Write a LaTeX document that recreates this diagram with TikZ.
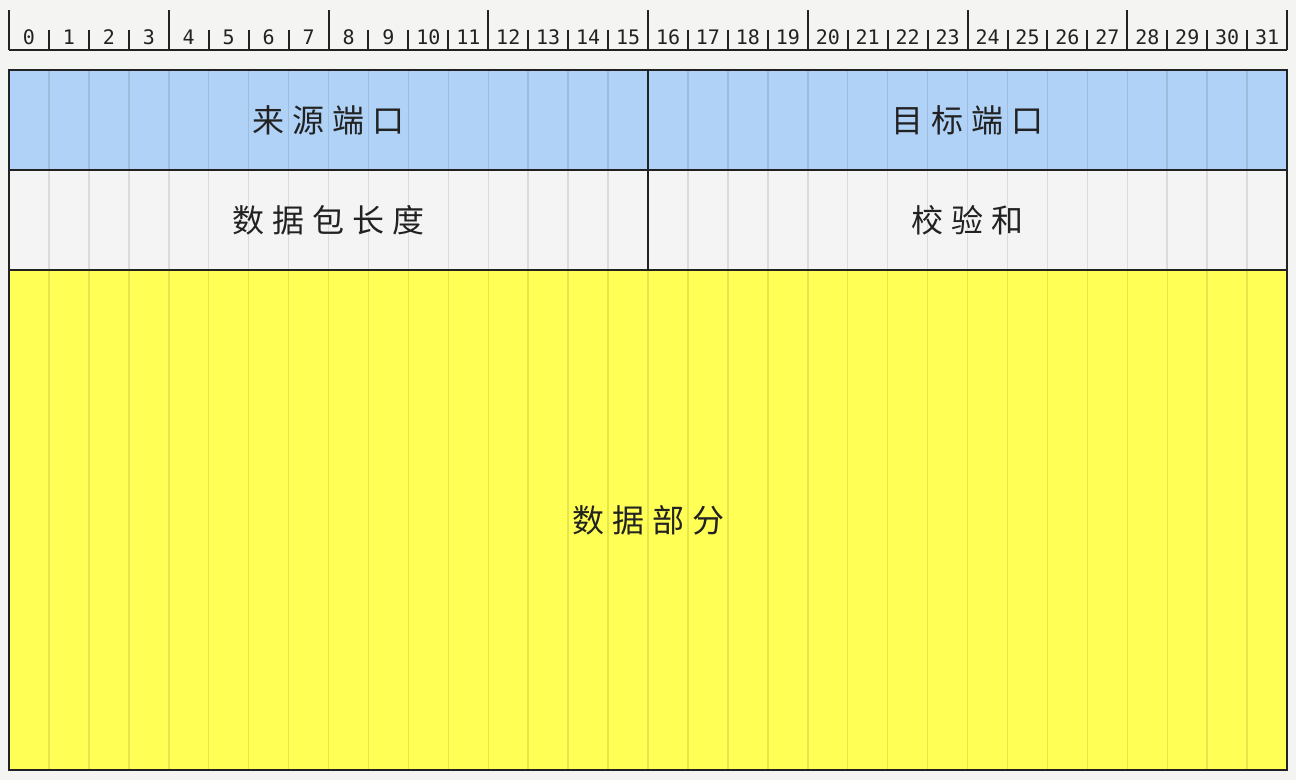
\documentclass[tikz,border=0pt]{standalone}
\usepackage{fontspec}
\setmonofont{DejaVu Sans Mono}
\newfontfamily\cjk[LetterSpace=25]{Noto Sans CJK SC}
\usetikzlibrary{positioning}
\definecolor{pagebg}{RGB}{244,244,242}
\definecolor{portblue}{RGB}{176,210,246}
\definecolor{rowgray}{RGB}{244,244,244}
\definecolor{datayellow}{RGB}{255,255,85}
\definecolor{inkgray}{RGB}{34,34,34}

\begin{document}
\begin{tikzpicture}[x=0.5pt, y=-0.5pt,
    field/.style={draw=inkgray, line width=1pt, inner sep=0pt, outer sep=0pt,
                  minimum width=319.5pt, minimum height=50pt, text=inkgray,
                  font=\cjk\fontsize{16}{18}\selectfont,
                  path picture={\foreach \i in {1,...,31}
                    \draw[black, opacity=0.1, line width=0.75pt]
                      ([xshift=\i*19.97pt]path picture bounding box.north west) --
                      ([xshift=\i*19.97pt]path picture bounding box.south west);}},
    bitno/.style={font=\ttfamily\fontsize{10}{12}\selectfont, text=inkgray, anchor=base, inner sep=0pt},
    ruler/.style={draw=inkgray, line width=1pt}]
  \useasboundingbox (0,0) rectangle (1296,780);
  \fill[pagebg] (0,0) rectangle (1296,780);
  % bit ruler
  \draw[ruler] (9,50) -- (1287,50);
  \foreach \i in {0,...,32} {
    \pgfmathsetmacro{\ticktop}{mod(\i,4)==0 ? 10 : 30}
    \draw[ruler] (9+39.94*\i,50) -- (9+39.94*\i,\ticktop);
  }
  \foreach \i in {0,...,31}
    \node[bitno] (bit\i) at (29+39.94*\i,45) {\i};
  % header fields
  \node[field, fill=portblue] (srcport) at (328.5,120) {来源端口};
  \node[field, fill=portblue, right=0pt of srcport] (dstport) {目标端口};
  \node[field, fill=rowgray, below=0pt of srcport] (length) {数据包长度};
  \node[field, fill=rowgray, right=0pt of length] (checksum) {校验和};
  \node[field, fill=datayellow, minimum width=639pt, minimum height=250pt,
        below=0pt of length.south east] (payload) {数据部分};
\end{tikzpicture}
\end{document}
